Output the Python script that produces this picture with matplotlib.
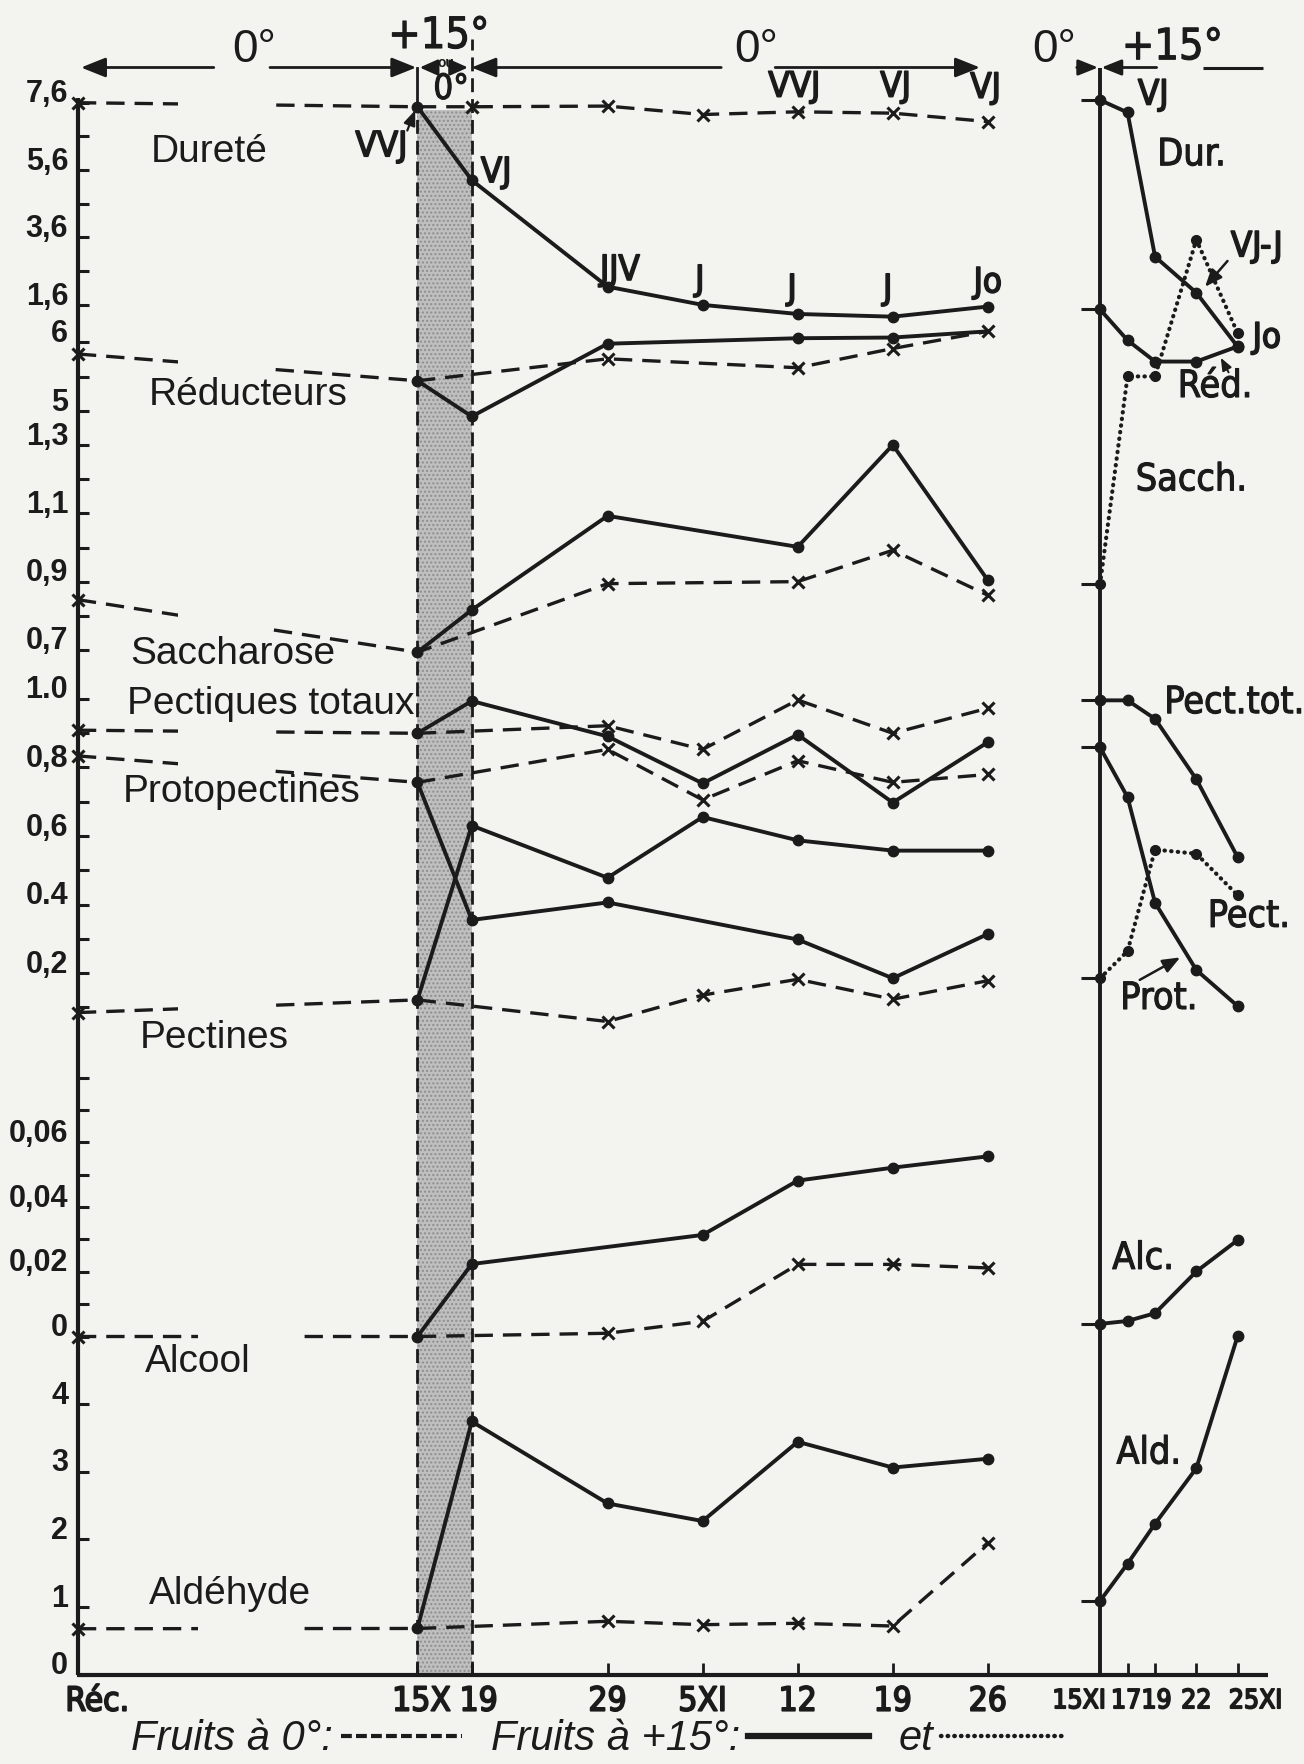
import matplotlib
matplotlib.use('Agg')
import matplotlib.pyplot as plt
import matplotlib.patheffects as pe
from matplotlib import font_manager as fm
from matplotlib.font_manager import FontProperties
from matplotlib.transforms import ScaledTranslation, blended_transform_factory
from matplotlib.lines import Line2D
from matplotlib.patches import Rectangle, FancyArrowPatch

# ---------------------------------------------------------------- DATA
main_days = [-25, 0, 4, 14, 21, 28, 35, 42]
main_day_labels = ['Réc.', '15X', '19', '29', '5XI', '12', '19', '26']
right_days = [15, 17, 19, 22, 25]
right_day_labels = ['15XI', '17', '19', '22', '25XI']

# Dureté
durete_0_days = [-25, 0, 4, 14, 21, 28, 35, 42]
durete_0 = [7.60, 7.48, 7.48, 7.50, 7.25, 7.33, 7.29, 7.04]
durete_15_days = [0, 4, 14, 21, 28, 35, 42]
durete_15 = [7.48, 5.30, 2.14, 1.60, 1.33, 1.25, 1.55]
# Réducteurs
reduct_0_days = [-25, 0, 14, 28, 35, 42]
reduct_0 = [5.83, 5.44, 5.76, 5.63, 5.91, 6.16]
reduct_15_days = [0, 4, 14, 28, 35, 42]
reduct_15 = [5.44, 4.92, 5.98, 6.06, 6.07, 6.16]
# Saccharose
sacch_0_days = [-25, 0, 14, 28, 35, 42]
sacch_0 = [0.847, 0.693, 0.894, 0.900, 0.992, 0.860]
sacch_15_days = [0, 4, 14, 28, 35, 42]
sacch_15 = [0.693, 0.817, 1.093, 1.002, 1.301, 0.904]
# Pectiques totaux
pecttot_0_days = [-25, 0, 14, 21, 28, 35, 42]
pecttot_0 = [0.908, 0.899, 0.921, 0.852, 0.996, 0.899, 0.972]
pecttot_15_days = [0, 4, 14, 21, 28, 35, 42]
pecttot_15 = [0.899, 0.993, 0.890, 0.753, 0.895, 0.697, 0.873]
# Protopectines
proto_0_days = [-25, 0, 14, 21, 28, 35, 42]
proto_0 = [0.833, 0.756, 0.852, 0.705, 0.819, 0.756, 0.779]
proto_15_days = [0, 4, 14, 28, 35, 42]
proto_15 = [0.756, 0.355, 0.406, 0.298, 0.185, 0.314]
# Pectines
pect_0_days = [-25, 0, 14, 21, 28, 35, 42]
pect_0 = [0.085, 0.122, 0.059, 0.136, 0.182, 0.124, 0.178]
pect_15_days = [0, 4, 14, 21, 28, 35, 42]
pect_15 = [0.122, 0.630, 0.478, 0.655, 0.587, 0.557, 0.557]
# Alcool
alc_0_days = [-25, 0, 14, 21, 28, 35, 42]
alc_0 = [0.0, 0.0, 0.001, 0.0047, 0.0223, 0.0223, 0.0212]
alc_15_days = [0, 4, 21, 28, 35, 42]
alc_15 = [0.0, 0.0224, 0.0314, 0.0482, 0.0522, 0.0557]
# Aldéhyde
ald_0_days = [-25, 0, 14, 21, 28, 35, 42]
ald_0 = [0.68, 0.684, 0.79, 0.74, 0.76, 0.72, 1.95]
ald_15_days = [0, 4, 14, 21, 28, 35, 42]
ald_15 = [0.684, 3.74, 2.53, 2.27, 3.44, 3.06, 3.19]

# right panel: 15 XI -> 25 XI at +15°
r_durete = [7.68, 7.31, 3.03, 1.96, 0.36]
r_reduct = [6.48, 6.03, 5.72, 5.72, 5.94]
r_sacch = [0.892, 1.502, 1.502, 1.903, 1.629]
r_pecttot = [0.995, 0.995, 0.941, 0.765, 0.538]
r_proto = [0.858, 0.713, 0.405, 0.209, 0.104]
r_pect = [0.185, 0.264, 0.560, 0.548, 0.427]
r_alc = [0.0039, 0.0048, 0.0072, 0.0201, 0.0298]
r_ald = [1.09, 1.64, 2.23, 3.05, 5.00]

# y-axis tick values / labels
dur_major = [7.6, 5.6, 3.6, 1.6]; dur_labels = ['7,6', '5,6', '3,6', '1,6']; dur_minor = [6.6, 4.6, 2.6]
red_major = [6, 5]; red_labels = ['6', '5']; red_minor = [5.5]
sac_major = [1.3, 1.1, 0.9, 0.7]; sac_labels = ['1,3', '1,1', '0,9', '0,7']; sac_minor = [1.2, 1.0, 0.8]
pec_major = [1.0, 0.8, 0.6, 0.4, 0.2]; pec_labels = ['1.0', '0,8', '0,6', '0.4', '0,2']; pec_minor = [0.9, 0.7, 0.5, 0.3, 0.1]
alc_major = [0.06, 0.04, 0.02, 0.0]; alc_labels = ['0,06', '0,04', '0,02', '0']; alc_minor = [0.08, 0.07, 0.05, 0.03, 0.01]
ald_major = [4, 3, 2, 1, 0]; ald_labels = ['4', '3', '2', '1', '0']; ald_minor = []

# ---------------------------------------------------------------- LAYOUT (reference px, 1159x1568 frame)
TOP, BOT = 60.0, 1488.7
MAIN_L, MAIN_R = 69.25, 878.0
RIGHT_L, RIGHT_R = 977.7, 1100.0
SCALE = {
    'dur': (7.6, 91.3, 1.6, 271.0),
    'red': (6.0, 304.3, 5.0, 365.3),
    'sac': (1.3, 395.8, 0.7, 577.6),
    'pec': (1.0, 621.0, 0.2, 865.0),
    'alc': (0.06, 1015.5, 0.0, 1188.0),
    'ald': (4.0, 1247.9, 0.0, 1488.7),
}

BG = '#f3f3f0'
INK = '#1b1b1b'

names = {f.name for f in fm.fontManager.ttflist}
SANS = 'Liberation Sans' if 'Liberation Sans' in names else 'DejaVu Sans'


def _w(f):
    w = f.weight
    if isinstance(w, str):
        w = {'normal': 400, 'regular': 400, 'book': 400, 'medium': 500, 'bold': 700,
             'semibold': 600, 'demibold': 600, 'heavy': 800, 'black': 900, 'light': 300}.get(w.lower(), 400)
    return w


def find_condensed():
    order = ['liberation', 'dejavu', 'roboto', 'opensans', 'open', 'noto', 'lato', 'inter']
    best = None
    for f in fm.fontManager.ttflist:
        fn = f.fname.lower()
        if not ('narrow' in fn or 'condensed' in fn):
            continue
        if f.style != 'normal' or _w(f) >= 600:
            continue
        base = fn.split('/')[-1]
        rank = next((i for i, k in enumerate(order) if base.startswith(k)), 99)
        if best is None or rank < best[0]:
            best = (rank, f.fname)
    return best[1] if best else None


_cr = find_condensed()


def cfont(size):
    if _cr:
        return FontProperties(fname=_cr, size=size)
    return FontProperties(family=SANS, size=size * 0.84)


def thick(w):
    return [pe.withStroke(linewidth=w, foreground=INK)]


fig = plt.figure(figsize=(13.04, 17.64), dpi=100, facecolor=BG)


def fx(x):
    return x / 1159.0


def fy(y):
    return 1.0 - y / 1568.0


def frac(y):
    return (BOT - y) / (BOT - TOP)


def ylim_for(key):
    v1, y1, v2, y2 = SCALE[key]
    k = (v2 - v1) / (y2 - y1)
    return (v1 + k * (BOT - y1), v1 + k * (TOP - y1))


def add_ax(l, r, xlim, key=None):
    ax = fig.add_axes([fx(l), fy(BOT), fx(r) - fx(l), fy(TOP) - fy(BOT)])
    ax.patch.set_visible(False)
    for s in ax.spines.values():
        s.set_visible(False)
    ax.tick_params(left=False, bottom=False, labelleft=False, labelbottom=False)
    ax.set_xlim(*xlim)
    if key is not None:
        ax.set_ylim(*ylim_for(key))
    else:
        ax.set_ylim(0, 1)
    return ax


XMAIN = (-25, 42)
XRIGHT = (15, 25)

base = add_ax(MAIN_L, MAIN_R, XMAIN)
base.axvspan(0, 4, ymin=0, ymax=frac(97.8), facecolor='#bfbfbf', edgecolor='#8e8e8e',
             hatch='....', lw=0, zorder=0.5)
base.plot([0, 0], [0, frac(95)], color=INK, lw=2.0, ls=(0, (5, 2.5)), clip_on=False)
base.plot([0, 0], [frac(95), frac(TOP)], color=INK, lw=2.0, clip_on=False)
base.plot([4, 4], [0, frac(35)], color=INK, lw=2.0, ls=(0, (5, 2.5)), clip_on=False)


def cold(ax, days, vals, skip=(1,)):
    idx = [i for i in range(len(days)) if i not in skip]
    ax.plot(days, vals, color=INK, lw=2.4, ls=(0, (5.5, 3.0)), marker='x', ms=8,
            mew=2.2, markevery=idx, clip_on=False, zorder=3)


def warm(ax, days, vals, every=None):
    ax.plot(days, vals, color=INK, lw=2.8, marker='o', ms=7.5, markevery=every,
            clip_on=False, zorder=4)


def left_scale(ax, major, labels, minor):
    ax.set_yticks(list(major) + list(minor))
    ax.tick_params(axis='y', left=True, direction='in', length=8, width=2.2, color=INK)
    tr = blended_transform_factory(ax.transAxes, ax.transData) + \
        ScaledTranslation(-7 / 72, 6 / 72, fig.dpi_scale_trans)
    for v, s in zip(major, labels):
        ax.text(0, v, s, transform=tr, ha='right', va='center', fontsize=22,
                fontweight='bold', family=SANS, color=INK)


ax_dur = add_ax(MAIN_L, MAIN_R, XMAIN, 'dur')
left_scale(ax_dur, dur_major, dur_labels, dur_minor)
ax_dur.set_ylim(*ylim_for('dur'))
cold(ax_dur, durete_0_days, durete_0)
warm(ax_dur, durete_15_days, durete_15)

ax_red = add_ax(MAIN_L, MAIN_R, XMAIN, 'red')
left_scale(ax_red, red_major, red_labels, red_minor)
ax_red.set_ylim(*ylim_for('red'))
cold(ax_red, reduct_0_days, reduct_0)
warm(ax_red, reduct_15_days, reduct_15, every=list(range(len(reduct_15) - 1)))

ax_sac = add_ax(MAIN_L, MAIN_R, XMAIN, 'sac')
left_scale(ax_sac, sac_major, sac_labels, sac_minor)
ax_sac.set_ylim(*ylim_for('sac'))
cold(ax_sac, sacch_0_days, sacch_0)
warm(ax_sac, sacch_15_days, sacch_15)

ax_pec = add_ax(MAIN_L, MAIN_R, XMAIN, 'pec')
left_scale(ax_pec, pec_major, pec_labels, pec_minor)
ax_pec.set_ylim(*ylim_for('pec'))
cold(ax_pec, pecttot_0_days, pecttot_0)
warm(ax_pec, pecttot_15_days, pecttot_15)
cold(ax_pec, proto_0_days, proto_0)
warm(ax_pec, proto_15_days, proto_15)
cold(ax_pec, pect_0_days, pect_0)
warm(ax_pec, pect_15_days, pect_15)

ax_alc = add_ax(MAIN_L, MAIN_R, XMAIN, 'alc')
left_scale(ax_alc, alc_major, alc_labels, alc_minor)
ax_alc.set_ylim(*ylim_for('alc'))
cold(ax_alc, alc_0_days, alc_0)
warm(ax_alc, alc_15_days, alc_15)

ax_ald = add_ax(MAIN_L, MAIN_R, XMAIN, 'ald')
left_scale(ax_ald, ald_major, ald_labels, ald_minor)
ax_ald.set_ylim(*ylim_for('ald'))
cold(ax_ald, ald_0_days, ald_0)
warm(ax_ald, ald_15_days, ald_15)

ax_ald.set_xticks(main_days[1:])
ax_ald.set_xlim(*XMAIN)
ax_ald.tick_params(axis='x', bottom=True, direction='in', length=9, width=2, color=INK)

main_shift = [14, 3, 5, 0, 0, 0, 0, 0]
right_shift = [-15, -1, 1, 0, 13]


def xlabels(ax, days, labels, shifts, size):
    for d, s, dx in zip(days, labels, shifts):
        tr = blended_transform_factory(ax.transData, ax.transAxes) + \
            ScaledTranslation(dx / 72, -19 / 72, fig.dpi_scale_trans)
        ax.text(d, 0, s, transform=tr, ha='center', va='center',
                fontproperties=cfont(size), color=INK, path_effects=thick(1.3))


xlabels(ax_ald, main_days, main_day_labels, main_shift, 24)


def rsolid(ax, vals):
    ax.plot(right_days, vals, color=INK, lw=2.8, marker='o', ms=7.5, clip_on=False, zorder=4)


def rdotted(ax, vals):
    ax.plot(right_days, vals, color=INK, lw=3.0, ls=(0, (0.1, 1.5)), dash_capstyle='round',
            marker='o', ms=7, clip_on=False, zorder=4)


def rtick(ax, v):
    ax.set_yticks([v])
    ax.tick_params(axis='y', left=True, direction='out', length=14, width=2.2, color=INK)


for key, vals, kind in [('dur', r_durete, 's'), ('red', r_reduct, 's'), ('sac', r_sacch, 'd'),
                        ('pec', r_pecttot, 's'), ('pec', r_proto, 's'), ('pec', r_pect, 'd'),
                        ('alc', r_alc, 's'), ('ald', r_ald, 's')]:
    axr = add_ax(RIGHT_L, RIGHT_R, XRIGHT, key)
    rtick(axr, vals[0])
    axr.set_ylim(*ylim_for(key))
    if kind == 's':
        rsolid(axr, vals)
    else:
        rdotted(axr, vals)
    if key == 'ald':
        axr.set_xticks(right_days[1:])
        axr.set_xlim(*XRIGHT)
        axr.tick_params(axis='x', bottom=True, direction='in', length=9, width=2, color=INK)
        xlabels(axr, right_days, right_day_labels, right_shift, 19)


def fline(x1, y1, x2, y2, lw=2.2, **kw):
    fig.add_artist(Line2D([fx(x1), fx(x2)], [fy(y1), fy(y2)], transform=fig.transFigure,
                          color=INK, lw=lw, solid_capstyle='butt', **kw))


def farrow(x1, y1, x2, y2, lw=2.0, scale=20, hl=0.75, hw=0.3):
    p = FancyArrowPatch((fx(x1), fy(y1)), (fx(x2), fy(y2)), transform=fig.transFigure,
                        arrowstyle='-|>,head_length=%g,head_width=%g' % (hl, hw),
                        mutation_scale=scale, color=INK, lw=lw, shrinkA=0, shrinkB=0)
    fig.add_artist(p)


fline(MAIN_L, BOT, MAIN_L, 87, lw=3.0)
fline(MAIN_L - 1, BOT, 1127, BOT, lw=3.0)
fline(RIGHT_L, BOT, RIGHT_L, TOP, lw=2.8)

fig.add_artist(Rectangle((fx(158), fy(950)), fx(240) - fx(158), fy(80) - fy(950),
                         transform=fig.transFigure, facecolor=BG, edgecolor='none', zorder=1))
fig.add_artist(Rectangle((fx(176), fy(1470)), fx(262) - fx(176), fy(950) - fy(1470),
                         transform=fig.transFigure, facecolor=BG, edgecolor='none', zorder=1))

farrow(190, 60, 72, 60)
farrow(240, 60, 370, 60)
farrow(385, 60, 373, 60, scale=12, hl=0.9, hw=0.4)
farrow(407, 60, 416, 60, scale=12, hl=0.9, hw=0.4)
farrow(641, 60, 419, 60)
farrow(689, 60, 871, 60)
farrow(957, 60, 976, 60, scale=16)
farrow(1028, 60, 979, 60, scale=16)
fline(1069, 60, 1123, 60)

farrow(362, 116, 369, 98, lw=1.6, scale=12)
farrow(1091, 232, 1071, 255, lw=1.8, scale=14)
farrow(1092, 331, 1085, 318, lw=1.4, scale=10)
farrow(1013, 871, 1049, 851, lw=1.8, scale=14)


def ftext(x, y, s, size, **kw):
    fig.text(fx(x), fy(y), s, fontsize=size, ha='center', va='center', color=INK,
             family=SANS, zorder=5, **kw)


def ctext(x, y, s, size, w=0.8):
    fig.text(fx(x), fy(y), s, ha='center', va='center', color=INK, zorder=5,
             fontproperties=cfont(size), path_effects=thick(w))


ftext(226, 44, '0°', 33)
ctext(390, 32, '+15°', 31)
ftext(396, 56, 'ou', 10, fontweight='bold')
ctext(401, 79, '0°', 25)
ftext(672, 44, '0°', 33)
ftext(937, 44, '0°', 33)
ctext(1042, 42, '+15°', 31)

for x, y, s in [(186, 135, 'Dureté'), (221, 351, 'Réducteurs'), (207, 581, 'Saccharose'),
                (241, 626, 'Pectiques totaux'), (215, 704, 'Protopectines'),
                (190, 923, 'Pectines'), (176, 1211, 'Alcool'), (204, 1417, 'Aldéhyde')]:
    ftext(x, y, s, 28)

for x, y, s in [(339, 130, 'VVJ'), (441, 153, 'VJ'), (551, 240, 'JJV'), (622, 249, 'J'),
                (704, 257, 'J'), (789, 257, 'J'), (878, 251, 'Jo'), (706, 77, 'VVJ'),
                (796, 77, 'VJ'), (876, 78, 'VJ'), (1025, 84, 'VJ'), (1117, 219, 'VJ-J'),
                (1126, 300, 'Jo')]:
    ctext(x, y, s, 25, w=1.2)

for x, y, s in [(1059, 138, 'Dur.'), (1080, 344, 'Réd.'), (1059, 427, 'Sacch.'),
                (1097, 625, 'Pect.tot.'), (1110, 815, 'Pect.'), (1030, 888, 'Prot.'),
                (1016, 1119, 'Alc.'), (1021, 1292, 'Ald.')]:
    ctext(x, y, s, 27)

h0 = Line2D([], [], color=INK, lw=3.0, ls=(0, (2.6, 1.0)))
h15 = Line2D([], [], color=INK, lw=4.5)
hdot = Line2D([], [], color=INK, lw=3.2, ls=(0, (0.1, 1.4)), dash_capstyle='round')
fig.legend([h0, h15, hdot], ['Fruits à 0°:', 'Fruits à +15°:', 'et'], loc='center left',
           bbox_to_anchor=(fx(116), fy(1546)), ncol=3, frameon=False, markerfirst=False,
           handlelength=2.9, handletextpad=0.2, columnspacing=0.7, borderaxespad=0,
           borderpad=0, prop=dict(family=SANS, style='italic', size=30), labelcolor=INK)

fig.savefig('out.png', dpi=100, facecolor=BG)
